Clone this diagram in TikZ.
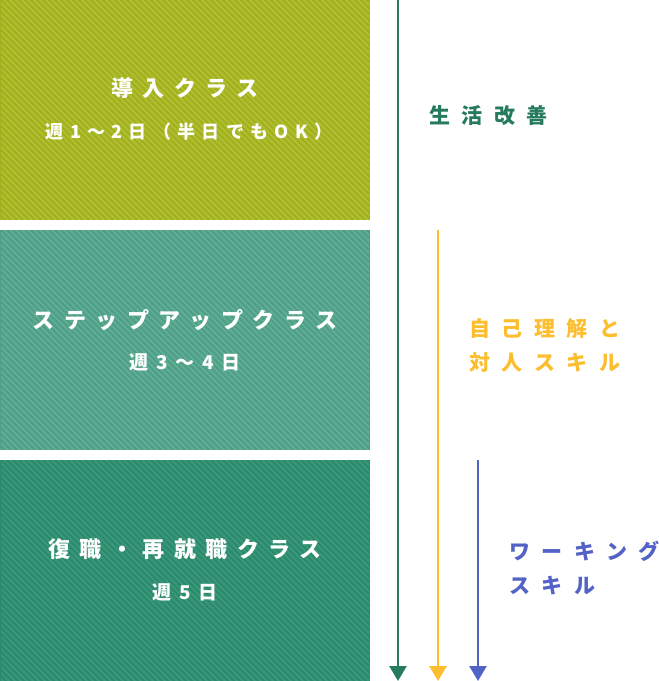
\documentclass[tikz,border=0pt]{standalone}
\usepackage{fontspec}
\newfontfamily\jpA[LetterSpace=43]{Noto Sans CJK JP}
\newfontfamily\jpB[LetterSpace=35]{Noto Sans CJK JP}
\newfontfamily\jpD[LetterSpace=40]{Noto Sans CJK JP}
\newfontfamily\jpC[LetterSpace=55]{Noto Sans CJK JP}
\usetikzlibrary{arrows.meta}
\definecolor{boxA}{HTML}{A2B11A}
\definecolor{strA}{HTML}{B0BE35}
\definecolor{boxB}{HTML}{4E9F86}
\definecolor{strB}{HTML}{5EAD94}
\definecolor{boxC}{HTML}{2B8A6B}
\definecolor{strC}{HTML}{3A977A}
\definecolor{arrG}{HTML}{267A5E}
\definecolor{arrY}{HTML}{FCBD2E}
\definecolor{arrB}{HTML}{5262C6}
\begin{document}
\begin{tikzpicture}[x=1pt,y=-1pt,
  box/.style 2 args={fill=#1, draw=none, minimum width=370pt, inner sep=0pt,
    path picture={
      \clip ([shift={(0.8pt,0.8pt)}]path picture bounding box.south west) rectangle ([shift={(-0.8pt,-0.8pt)}]path picture bounding box.north east);
      \foreach \i in {-240,-234,...,380}{\draw[#2,line width=1.9pt] ([xshift=\i pt, yshift=10pt]path picture bounding box.north west) -- ++(260pt,-260pt);}}},
  ttl/.style={font=\fontsize{22}{26}\selectfont\jpA\bfseries, text=white, inner sep=0pt},
  subA/.style={font=\fontsize{18}{22}\selectfont\jpB\bfseries, text=white, inner sep=0pt},
  sub/.style={font=\fontsize{19}{23}\selectfont\jpD\bfseries, text=white, inner sep=0pt},
  lbl/.style={font=\fontsize{21}{34}\selectfont\jpC\bfseries, inner sep=0pt, anchor=west, align=left},
  arr/.style={line width=2.6pt, -{Triangle[width=17pt,length=15pt]}}
]
\useasboundingbox (0,0) rectangle (659,681);
\node[box={boxA}{strA}, minimum height=220pt] (b1) at (185,110) {};
\node[box={boxB}{strB}, minimum height=220pt] (b2) at (185,340) {};
\node[box={boxC}{strC}, minimum height=221pt] (b3) at (185,570.5) {};
\node[ttl] (t1) at (185,88) {導入クラス\hspace{-0.43em}};
\node[subA] (s1) at (189,132) {週1〜2日（半日でもOK）\hspace{-0.35em}};
\node[ttl] (t2) at (185,320) {ステップアップクラス\hspace{-0.43em}};
\node[sub] (s2) at (185,362) {週3〜4日\hspace{-0.4em}};
\node[ttl] (t3) at (185,549) {復職・再就職クラス\hspace{-0.43em}};
\node[sub] (s3) at (185,592) {週5日\hspace{-0.4em}};
\coordinate (g0) at (398,0);
\coordinate (g1) at (398,681);
\coordinate (y0) at (438,230);
\coordinate (y1) at (438,681);
\coordinate (u0) at (478,460);
\coordinate (u1) at (478,681);
\draw[arr,arrG] (g0) -- (g1);
\draw[arr,arrY] (y0) -- (y1);
\draw[arr,arrB] (u0) -- (u1);
\node[lbl,text=arrG] (l1) at (429,116) {生活改善};
\node[lbl,text=arrY] (l2) at (469,345) {自己理解と\\対人スキル};
\node[lbl,text=arrB] (l3) at (509,568.5) {ワーキング\\スキル};
\end{tikzpicture}
\end{document}
